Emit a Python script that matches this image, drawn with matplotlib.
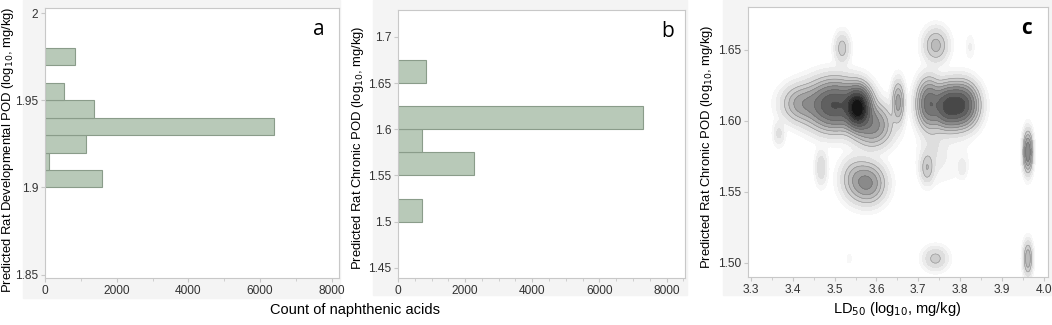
import numpy as np
import matplotlib
matplotlib.use('Agg')
import matplotlib.pyplot as plt
from matplotlib.patches import Rectangle
from matplotlib.ticker import AutoMinorLocator

plt.rcParams['font.family'] = ['Liberation Sans', 'DejaVu Sans']

# panel a: developmental POD histogram (bin lower edges, counts)
dev_bins = [1.90, 1.91, 1.92, 1.93, 1.94, 1.95, 1.97]
dev_counts = [1600, 110, 1140, 6380, 1380, 520, 840]
dev_width = 0.01

# panel b: chronic POD histogram
chr_bins = [1.50, 1.55, 1.575, 1.60, 1.65]
chr_counts = [716, 2270, 716, 7310, 836]
chr_width = 0.025

# panel c: density clusters (LD50 centre, POD centre, weight, spread x, spread y)
clu_x = [3.556, 3.500, 3.420, 3.590, 3.770, 3.805, 3.725, 3.652,
         3.518, 3.742, 3.824, 3.580, 3.550, 3.468, 3.721, 3.805, 3.760,
         3.962, 3.741, 3.962, 3.367, 3.535, 3.735]
clu_y = [1.609, 1.611, 1.612, 1.597, 1.610, 1.611, 1.612, 1.613,
         1.651, 1.653, 1.652, 1.556, 1.559, 1.567, 1.567, 1.567, 1.575,
         1.578, 1.503, 1.503, 1.591, 1.503, 1.585]
clu_w = [1.00, 0.50, 0.12, 0.20, 0.50, 0.45, 0.30, 0.13,
         0.05, 0.08, 0.008, 0.17, 0.07, 0.03, 0.06, 0.012, 0.006,
         0.24, 0.045, 0.10, 0.02, 0.004, 0.015]
clu_sx = [0.016, 0.035, 0.025, 0.025, 0.020, 0.020, 0.015, 0.008,
          0.010, 0.016, 0.006, 0.022, 0.020, 0.008, 0.009, 0.006, 0.040,
          0.006, 0.016, 0.006, 0.008, 0.005, 0.015]
clu_sy = [0.0075, 0.009, 0.007, 0.008, 0.008, 0.008, 0.009, 0.008,
          0.006, 0.0065, 0.005, 0.0075, 0.008, 0.007, 0.006, 0.004, 0.012,
          0.0075, 0.0045, 0.0065, 0.005, 0.003, 0.012]

bar_face = '#b8c9b8'
bar_edge = '#8a9c8a'
spine_col = '#c8c8c8'

fig = plt.figure(figsize=(10.52, 3.25), dpi=100)
W, H = 1052, 325


def px_axes(l, t, r, b):
    return fig.add_axes([l / W, 1 - b / H, (r - l) / W, (b - t) / H])


def panel_bg(l, t, r, b):
    fig.patches.append(Rectangle((l / W, 1 - b / H), (r - l) / W, (b - t) / H,
                                 transform=fig.transFigure, color='#f4f4f4', zorder=-10))


def style(ax):
    for s in ax.spines.values():
        s.set_color(spine_col)
    ax.tick_params(colors='#333333', labelsize=8.6, length=3, color=spine_col, pad=2)
    ax.tick_params(which='minor', length=2, color=spine_col)
    ax.set_facecolor('white')


def ylabel_at(text, x, y):
    fig.text(x / W, 1 - y / H, text, rotation=90, fontsize=9.4, ha='center', va='center')


# panel a
panel_bg(23, 0, 340, 298)
ax1 = px_axes(45, 8, 339, 278)
ax1.barh(dev_bins, dev_counts, height=dev_width, align='edge',
         color=bar_face, edgecolor=bar_edge, linewidth=0.8)
ax1.set_xlim(0, 8200)
ax1.set_ylim(1.848, 2.003)
ax1.set_xticks([0, 2000, 4000, 6000, 8000])
ax1.set_yticks([1.85, 1.9, 1.95, 2.0])
ax1.set_yticklabels(['1.85', '1.9', '1.95', '2'])
ax1.xaxis.set_minor_locator(AutoMinorLocator(2))
style(ax1)
ylabel_at('Predicted Rat Developmental POD (log$_{10}$, mg/kg)', 8, 150)
ax1.text(0.93, 0.9, 'a', transform=ax1.transAxes, fontsize=15, family='Open Sans', ha='center')

# panel b
panel_bg(373, 0, 687, 295)
ax2 = px_axes(398, 10, 685, 278)
ax2.barh(chr_bins, chr_counts, height=chr_width, align='edge',
         color=bar_face, edgecolor=bar_edge, linewidth=0.8)
ax2.set_xlim(0, 8550)
ax2.set_ylim(1.439, 1.729)
ax2.set_xticks([0, 2000, 4000, 6000, 8000])
ax2.set_yticks([1.45, 1.5, 1.55, 1.6, 1.65, 1.7])
ax2.set_yticklabels(['1.45', '1.5', '1.55', '1.6', '1.65', '1.7'])
ax2.xaxis.set_minor_locator(AutoMinorLocator(4))
style(ax2)
ylabel_at('Predicted Rat Chronic POD (log$_{10}$, mg/kg)', 358, 148)
ax2.text(0.94, 0.9, 'b', transform=ax2.transAxes, fontsize=15, family='Open Sans', ha='center')

fig.text(355 / W, 1 - 310 / H, 'Count of naphthenic acids', fontsize=10.5, ha='center', va='center')

# panel c
panel_bg(723, 0, 1052, 295)
ax3 = px_axes(748, 7, 1048, 277)
gx = np.linspace(3.29, 4.01, 500)
gy = np.linspace(1.49, 1.68, 400)
X, Y = np.meshgrid(gx, gy)
Z = np.zeros_like(X)
for cx, cy, w, sx, sy in zip(clu_x, clu_y, clu_w, clu_sx, clu_sy):
    Z += w * np.exp(-0.5 * (((X - cx) / sx) ** 2 + ((Y - cy) / sy) ** 2))
Z /= Z.max()
levels = [0.002, 0.006, 0.014, 0.03, 0.055, 0.09, 0.14, 0.21, 0.3, 0.42, 0.57, 0.75, 1.01]
greys = plt.cm.Greys(np.linspace(0.07, 0.93, len(levels) - 1))
ax3.contourf(X, Y, Z, levels=levels, colors=greys)
ax3.contour(X, Y, Z, levels=levels[3:-1], colors='#555555', linewidths=0.45, alpha=0.45)
ax3.set_xlim(3.293, 4.01)
ax3.set_ylim(1.490, 1.680)
ax3.set_xticks([3.3, 3.4, 3.5, 3.6, 3.7, 3.8, 3.9, 4.0])
ax3.set_xticklabels(['3.3', '3.4', '3.5', '3.6', '3.7', '3.8', '3.9', '4.0'])
ax3.set_yticks([1.50, 1.55, 1.60, 1.65])
ax3.set_yticklabels(['1.50', '1.55', '1.60', '1.65'])
ax3.xaxis.set_minor_locator(AutoMinorLocator(2))
style(ax3)
ylabel_at('Predicted Rat Chronic POD (log$_{10}$, mg/kg)', 707, 147)
fig.text(897 / W, 1 - 309 / H, 'LD$_{50}$ (log$_{10}$, mg/kg)', fontsize=10.5, ha='center', va='center')
ax3.text(0.93, 0.9, 'c', transform=ax3.transAxes, fontsize=15, family='Open Sans',
         ha='center', weight='bold')

fig.savefig('out.png', dpi=100)
